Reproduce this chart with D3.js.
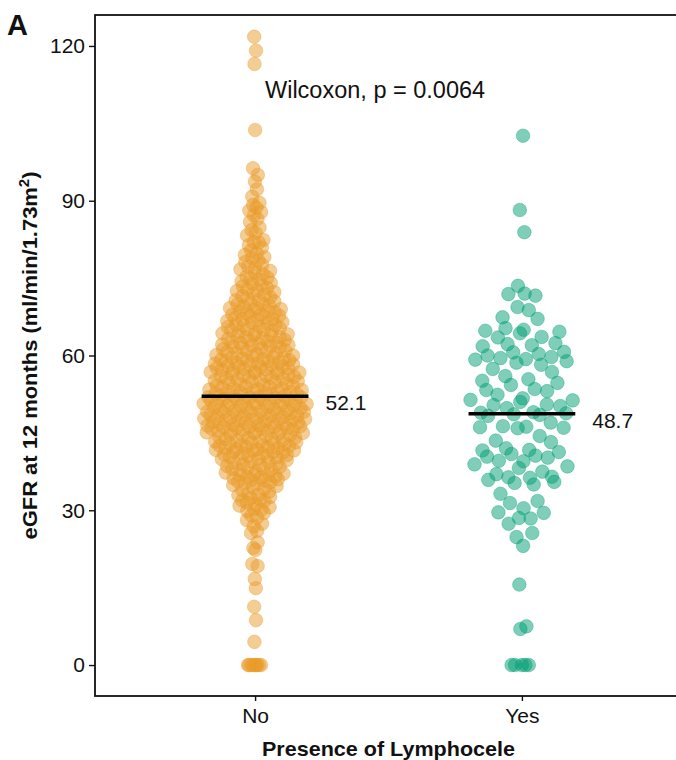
<!DOCTYPE html>
<html>
<head>
<meta charset="utf-8">
<script src="https://cdn.jsdelivr.net/npm/d3@7"></script>
<style>
  body { margin: 0; background: #fff; }
  svg { display: block; }
  text { font-family: "Liberation Sans", Arial, Helvetica, sans-serif; fill: #111; }
</style>
</head>
<body>
<svg id="chart" width="676" height="760"></svg>
<script>
// eGFR at 12 months by presence of lymphocele
const groups = ["No", "Yes"];
const groupColors = ["#E99C2A", "#009E73"];

const noValues = [
  0, 0, 0, 0, 0, 0, 0, 0, 0,
  4.5, 8.7, 11.3, 14.9, 16.7, 19.2, 19.6, 22.3, 22.7, 23.8,
  25.6, 26.0, 26.9, 27.4, 28.1, 28.6, 29.0, 29.5, 29.9,
  30.3, 31.8, 30.9, 33.2, 34.7, 32.4, 31.1, 33.9, 34.2, 30.6, 32.9, 31.5, 33.6, 34.9, 32.1, 30.1, 33.0, 34.4, 31.9, 32.6,
  35.4, 37.9, 36.2, 39.1, 38.4, 35.8, 37.1, 39.7, 36.6, 38.9, 35.1, 37.5, 39.4, 36.9, 38.1, 35.6,
  37.3, 39.9, 36.4, 38.6, 35.9, 37.7, 39.2, 36.0, 38.3, 35.3, 37.0, 39.5, 36.8, 38.8, 36.3, 38.0,
  40.2, 42.7, 44.1, 41.3, 43.8, 40.9, 42.2, 44.6, 41.7, 43.3, 40.5, 42.9, 44.4, 41.0, 43.6, 40.7,
  42.4, 44.8, 41.5, 43.1, 40.0, 42.0, 44.2, 41.9, 43.5, 40.4, 42.6, 44.9, 41.2, 43.0, 40.8, 42.3,
  44.5, 41.6, 43.9, 40.3, 42.8, 44.0, 41.4, 43.4, 40.6, 42.1, 44.7, 41.8, 43.2, 42.5,
  45.3, 47.6, 49.1, 46.2, 48.4, 45.8, 47.0, 49.6, 46.7, 48.9, 45.1, 47.3, 49.3, 46.0, 48.1,
  45.5, 47.8, 49.8, 46.4, 48.6, 45.0, 47.2, 49.0, 46.9, 48.3, 45.7, 47.5, 49.5, 46.1, 48.7,
  45.2, 47.9, 49.2, 46.6, 48.0, 45.9, 47.1, 49.7, 46.3, 48.5, 45.4, 47.4, 49.4, 46.8, 48.2,
  45.6, 47.7, 49.9, 46.5, 48.8, 45.3, 47.0, 49.1, 46.2, 48.4, 46.0, 47.6, 48.9,
  50.2, 51.4, 52.0, 50.7, 51.8, 50.0, 51.1, 51.9, 50.5, 51.6, 50.3, 51.3, 52.1,
  50.9, 51.7, 50.1, 51.0, 51.5, 50.6, 50.8, 51.2, 50.4, 51.9, 50.7, 51.5, 50.9,
  52.4, 53.6, 54.8, 53.0, 54.1, 52.7, 53.9, 54.4, 53.3, 52.2, 52.9, 54.6, 53.5, 52.5,
  54.0, 53.2, 54.9, 52.3, 53.8, 54.3, 52.6, 53.4, 54.7, 53.1, 52.8, 54.2, 53.7, 52.4,
  55.3, 57.2, 59.4, 56.1, 58.5, 55.8, 57.7, 59.0, 56.6, 58.1, 55.1, 57.4, 59.7, 56.3, 58.8,
  55.6, 57.0, 59.2, 56.9, 58.3, 55.0, 57.9, 59.9, 56.4, 58.6, 55.5, 57.3, 59.5, 56.0, 58.0,
  55.9, 57.6, 59.1, 56.7, 58.9, 55.2, 57.1, 59.6, 56.2, 58.4, 55.7, 57.8, 59.3, 56.8, 58.2,
  56.5, 57.5, 58.7,
  60.4, 62.3, 64.1, 61.2, 63.5, 60.9, 62.8, 64.6, 61.7, 63.0, 60.1, 62.0, 64.3, 61.5, 63.8,
  60.6, 62.5, 64.8, 61.0, 63.2, 60.3, 62.9, 64.0, 61.8, 63.6, 60.8, 62.1, 64.4, 61.3, 63.9,
  60.0, 62.6, 64.9, 61.6, 63.3, 60.5, 62.4, 61.9,
  65.3, 67.1, 69.2, 66.4, 68.0, 65.8, 67.6, 69.7, 66.0, 68.5, 65.1, 67.3, 69.0, 66.7, 68.2,
  65.6, 67.9, 69.5, 66.2, 68.8, 65.0, 67.4, 69.9, 66.9, 68.4, 65.5, 67.0, 69.3, 66.5, 68.7,
  65.9, 67.7,
  70.2, 72.5, 74.1, 71.3, 73.6, 70.8, 72.0, 74.7, 71.8, 73.1, 70.5, 72.8, 74.4, 71.0, 73.9,
  70.0, 72.3, 74.9, 71.5, 73.4, 70.7, 72.6,
  75.3, 77.2, 79.5, 76.1, 78.4, 75.8, 77.6, 79.1, 76.7, 78.9, 75.1, 77.0, 76.4, 78.1, 79.8,
  80.4, 81.4, 82.4, 83.3, 84.3, 80.9, 82.0, 83.8, 84.8, 81.9,
  85.9, 87.2, 88.1, 88.7, 89.2, 89.6, 86.5, 87.8,
  90.8, 92.2, 93.7, 95.0, 96.3, 103.7, 116.5, 119.1, 121.8
];

const yesValues = [
  102.6, 88.2, 83.9, 73.5, 71.9, 72.0, 71.6, 69.4, 68.8, 67.4, 67.1,
  65.3, 64.8, 65.0, 64.3, 63.5, 64.6, 63.6, 62.4, 62.0, 62.2, 61.8, 60.7,
  59.2, 59.3, 59.7, 58.6, 60.0, 60.6, 60.3, 59.5, 58.9, 58.2, 57.4,
  56.8, 56.0, 55.1, 55.4, 54.7, 53.1, 53.3, 52.4, 51.4, 54.3, 53.5, 51.7,
  51.3, 50.4, 50.5, 51.0, 49.8, 48.5, 50.2, 48.8, 49.0, 48.6, 48.9, 48.3,
  47.0, 46.0, 46.1, 46.2, 46.3, 45.9, 44.4, 43.2, 43.5,
  42.0, 41.3, 40.2, 39.6, 38.9, 40.9, 41.6, 40.6, 39.5, 40.4, 41.7, 38.5,
  38.2, 37.5, 36.5, 37.0, 36.4, 35.5, 35.0, 35.3, 36.3, 35.9,
  33.2, 31.8, 29.5, 31.4, 30.4, 29.6, 28.5, 27.4, 28.4,
  25.6, 24.8, 23.1, 15.6, 7.5, 7.0, 0, 0, 0, 0, 0
];

const medians = [52.1, 48.7];
const yTicks = [0, 30, 60, 90, 120];
const testLabel = "Wilcoxon, p = 0.0064";
const xTitle = "Presence of Lymphocele";
const yTitle = "eGFR at 12 months (ml/min/1.73m";
const panelTag = "A";

const svg = d3.select("#chart");
const panel = { left: 95, top: 15, right: 682, bottom: 696 };

const x = d3.scalePoint().domain(groups).range([panel.left, panel.right]).padding(0.6);
const step = x.step();
const y = d3.scaleLinear().domain([-6, 126]).range([panel.bottom, panel.top]);
const color = d3.scaleOrdinal().domain(groups).range(groupColors);

// van der Corput sequence (base 2) for quasirandom spreading
function vanDerCorput(i) {
  let f = 1, r = 0, k = i;
  while (k > 0) { f /= 2; r += f * (k % 2); k = Math.floor(k / 2); }
  return r;
}

// Quasirandom offsets scaled by the kernel density of each value (in [-1, 1])
function quasiOffsets(vals, adjust) {
  const n = vals.length;
  const sorted = vals.slice().sort(d3.ascending);
  const sd = d3.deviation(vals);
  const iqr = d3.quantile(sorted, 0.75) - d3.quantile(sorted, 0.25);
  const bw = 0.9 * Math.min(sd, iqr / 1.34) * Math.pow(n, -0.2) * adjust;
  const dens = v => d3.sum(vals, u => Math.exp(-0.5 * ((v - u) / bw) ** 2));
  const lo = sorted[0] - 3 * bw, hi = sorted[n - 1] + 3 * bw;
  const grid = d3.range(512).map(i => lo + (hi - lo) * i / 511);
  const maxD = d3.max(grid, dens);
  const order = d3.range(n).sort((a, b) => vals[a] - vals[b] || a - b);
  const rank = new Array(n);
  order.forEach((idx, r) => { rank[idx] = r + 1; });
  return vals.map((v, i) => (vanDerCorput(rank[i]) - 0.5) * 2 * dens(v) / maxD);
}

const spread = 0.2 * step;
const seriesValues = [noValues, yesValues];
const points = [];
seriesValues.forEach((vals, gi) => {
  const offs = quasiOffsets(vals, 0.5);
  vals.forEach((v, i) => points.push({ group: groups[gi], value: v, off: offs[i] }));
});

// points
svg.append("g")
  .selectAll("circle")
  .data(points)
  .join("circle")
  .attr("cx", d => x(d.group) + d.off * spread)
  .attr("cy", d => y(d.value))
  .attr("r", 6.8)
  .attr("fill", d => color(d.group))
  .attr("fill-opacity", 0.5)
  .attr("stroke", d => color(d.group))
  .attr("stroke-opacity", 0.5)
  .attr("stroke-width", 0.7);

// median bars and labels
const med = groups.map((g, i) => ({ group: g, value: medians[i] }));
svg.append("g")
  .selectAll("line")
  .data(med)
  .join("line")
  .attr("x1", d => x(d.group) - 0.2 * step)
  .attr("x2", d => x(d.group) + 0.2 * step)
  .attr("y1", d => y(d.value))
  .attr("y2", d => y(d.value))
  .attr("stroke", "#000")
  .attr("stroke-width", 3.5);

svg.append("g")
  .selectAll("text")
  .data(med)
  .join("text")
  .attr("x", d => x(d.group) + 0.2 * step + 17)
  .attr("y", d => y(d.value) + 14)
  .attr("font-size", 21)
  .text(d => d.value.toFixed(1));

// panel frame
svg.append("rect")
  .attr("x", panel.left)
  .attr("y", panel.top)
  .attr("width", panel.right - panel.left)
  .attr("height", panel.bottom - panel.top)
  .attr("fill", "none")
  .attr("stroke", "#111")
  .attr("stroke-width", 1.8);

// y axis
const yAxis = svg.append("g")
  .attr("transform", `translate(${panel.left},0)`)
  .call(d3.axisLeft(y).tickValues(yTicks).tickSize(6).tickPadding(4).tickFormat(d3.format("d")));
yAxis.select(".domain").remove();
yAxis.selectAll(".tick line").attr("stroke", "#111").attr("stroke-width", 1.4);
yAxis.selectAll(".tick text").attr("font-size", 21).attr("fill", "#111")
  .attr("font-family", "'Liberation Sans', Arial, sans-serif");

// x axis
const xAxis = svg.append("g")
  .attr("transform", `translate(0,${panel.bottom})`)
  .call(d3.axisBottom(x).tickSize(5).tickPadding(7));
xAxis.select(".domain").remove();
xAxis.selectAll(".tick line").attr("stroke", "#111").attr("stroke-width", 1.4);
xAxis.selectAll(".tick text").attr("font-size", 21).attr("fill", "#111")
  .attr("font-family", "'Liberation Sans', Arial, sans-serif");

// axis titles
svg.append("text")
  .attr("x", (panel.left + panel.right) / 2)
  .attr("y", 756)
  .attr("text-anchor", "middle")
  .attr("font-size", 20.5)
  .attr("font-weight", "bold")
  .attr("textLength", 253)
  .attr("lengthAdjust", "spacingAndGlyphs")
  .text(xTitle);

const yt = svg.append("text")
  .attr("transform", `translate(37,${(panel.top + panel.bottom) / 2}) rotate(-90)`)
  .attr("text-anchor", "middle")
  .attr("font-size", 20.5)
  .attr("font-weight", "bold")
  .attr("textLength", 368)
  .attr("lengthAdjust", "spacingAndGlyphs");
yt.append("tspan").text(yTitle);
yt.append("tspan").attr("dy", -8).attr("font-size", 14).text("2");
yt.append("tspan").attr("dy", 8).text(")");

// test annotation
svg.append("text")
  .attr("x", 265)
  .attr("y", 98)
  .attr("font-size", 23.5)
  .text(testLabel);

// panel tag
svg.append("text")
  .attr("x", 7)
  .attr("y", 35)
  .attr("font-size", 29)
  .attr("font-weight", "bold")
  .text(panelTag);
</script>
</body>
</html>
